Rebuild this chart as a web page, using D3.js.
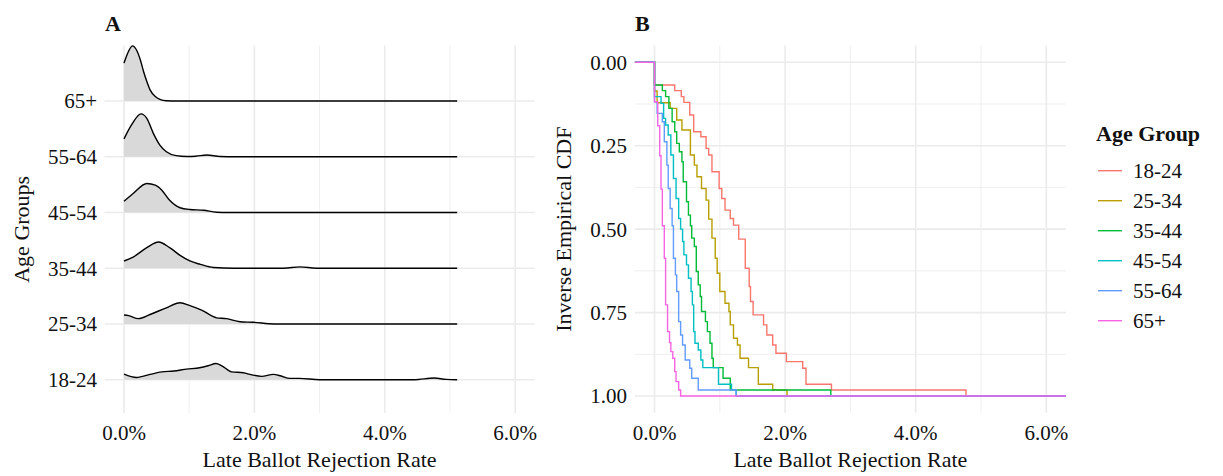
<!DOCTYPE html>
<html>
<head>
<meta charset="utf-8">
<script src="https://cdn.jsdelivr.net/npm/d3@7"></script>
<style>
  body { margin: 0; background: #fff; }
  svg text { font-family: "Liberation Serif", serif; fill: #111; }
</style>
</head>
<body>
<div id="chart"></div>
<script>
// age groups, bottom to top in panel A, legend order in panel B
const groups = ["18-24", "25-34", "35-44", "45-54", "55-64", "65+"];
const groupColors = ["#F8766D", "#B79F00", "#00BA38", "#00BFC4", "#619CFF", "#F564E3"];

const rateTicks = [0, 2, 4, 6];        // % late ballot rejection
const rateMinor = [1, 3, 5];
const cdfTicks = [0, 0.25, 0.5, 0.75, 1];
const cdfMinor = [0.125, 0.375, 0.625, 0.875];

// panel A: ridge heights (in row units) read at rejection rate (%)
const dens_18_24 = [[0,0.1],[0.19,0.04],[0.4,0.095],[0.58,0.14],[0.76,0.155],[0.96,0.19],[1.16,0.215],[1.29,0.25],[1.41,0.29],[1.5,0.25],[1.65,0.14],[1.83,0.125],[1.95,0.09],[2.11,0.06],[2.29,0.095],[2.41,0.066],[2.54,0.023],[2.69,0.023],[3.0,0],[4.45,0],[4.76,0.03],[4.94,0.005],[5.11,0]];
const dens_25_34 = [[0,0.16],[0.07,0.15],[0.22,0.095],[0.4,0.17],[0.65,0.29],[0.86,0.38],[1.01,0.33],[1.19,0.25],[1.42,0.11],[1.57,0.095],[1.78,0.04],[1.98,0.03],[2.3,0],[5.11,0]];
const dens_35_44 = [[0,0.13],[0.14,0.2],[0.35,0.37],[0.53,0.47],[0.7,0.37],[0.86,0.23],[1.01,0.13],[1.17,0.07],[1.37,0.013],[1.68,0],[2.45,0],[2.7,0.024],[2.95,0],[5.11,0]];
const dens_45_54 = [[0,0.2],[0.14,0.34],[0.35,0.52],[0.48,0.49],[0.58,0.4],[0.7,0.22],[0.86,0.085],[1.01,0.054],[1.22,0.041],[1.42,0.005],[1.6,0],[5.11,0]];
const dens_55_64 = [[0,0.32],[0.12,0.58],[0.26,0.77],[0.35,0.69],[0.45,0.42],[0.55,0.21],[0.65,0.09],[0.8,0.02],[0.96,0.005],[1.1,0.01],[1.27,0.03],[1.47,0.005],[1.7,0],[5.11,0]];
const dens_65 = [[0,0.68],[0.05,0.84],[0.13,0.99],[0.19,0.92],[0.25,0.74],[0.3,0.53],[0.35,0.35],[0.4,0.2],[0.48,0.08],[0.55,0.03],[0.65,0.005],[0.8,0],[5.11,0]];

// panel B: ecdf steps [rate %, cumulative share after the step]
const ecdf_18_24 = [[0,0.068],[0.31,0.085],[0.41,0.103],[0.45,0.12],[0.54,0.158],[0.6,0.208],[0.71,0.223],[0.79,0.258],[0.83,0.278],[0.88,0.328],[0.99,0.378],[1.03,0.408],[1.08,0.443],[1.16,0.468],[1.21,0.488],[1.29,0.53],[1.39,0.617],[1.45,0.672],[1.47,0.717],[1.51,0.757],[1.67,0.787],[1.72,0.817],[1.81,0.847],[1.86,0.872],[2.02,0.897],[2.27,0.917],[2.32,0.965],[2.71,0.982],[4.77,1]];
const ecdf_25_34 = [[0,0.086],[0.04,0.121],[0.24,0.138],[0.34,0.173],[0.42,0.203],[0.55,0.278],[0.61,0.308],[0.65,0.343],[0.72,0.378],[0.79,0.413],[0.83,0.47],[0.88,0.527],[0.93,0.587],[0.96,0.632],[1.0,0.687],[1.08,0.722],[1.14,0.747],[1.16,0.787],[1.21,0.827],[1.27,0.847],[1.31,0.887],[1.44,0.915],[1.59,0.965],[1.81,0.982],[2.03,1]];
const ecdf_35_44 = [[0,0.068],[0.12,0.085],[0.17,0.103],[0.22,0.138],[0.27,0.178],[0.31,0.208],[0.34,0.243],[0.38,0.268],[0.42,0.298],[0.44,0.358],[0.49,0.418],[0.52,0.458],[0.55,0.49],[0.57,0.527],[0.61,0.552],[0.64,0.627],[0.67,0.667],[0.7,0.702],[0.72,0.747],[0.78,0.777],[0.81,0.807],[0.85,0.842],[0.88,0.887],[0.9,0.915],[1.05,0.947],[1.16,0.982],[2.7,1]];
const ecdf_45_54 = [[0,0.103],[0.1,0.123],[0.14,0.168],[0.17,0.188],[0.21,0.218],[0.25,0.278],[0.29,0.348],[0.33,0.408],[0.37,0.468],[0.4,0.5],[0.43,0.537],[0.45,0.577],[0.49,0.607],[0.52,0.647],[0.56,0.687],[0.58,0.727],[0.6,0.807],[0.62,0.842],[0.67,0.862],[0.71,0.892],[0.74,0.915],[0.98,0.965],[1.18,0.982],[1.25,1]];
const ecdf_55_64 = [[0,0.118],[0.04,0.153],[0.12,0.178],[0.15,0.238],[0.19,0.308],[0.21,0.378],[0.24,0.438],[0.27,0.49],[0.29,0.587],[0.32,0.637],[0.34,0.687],[0.37,0.777],[0.4,0.817],[0.43,0.847],[0.47,0.892],[0.54,0.917],[0.57,0.947],[0.67,0.982],[1.25,1]];
const ecdf_65 = [[0,0.118],[0.05,0.19],[0.08,0.28],[0.1,0.38],[0.12,0.49],[0.15,0.587],[0.17,0.727],[0.2,0.807],[0.23,0.84],[0.25,0.867],[0.28,0.887],[0.31,0.927],[0.33,0.957],[0.37,0.982],[0.4,1]];

const densities = [dens_18_24, dens_25_34, dens_35_44, dens_45_54, dens_55_64, dens_65];
const ecdfs = [ecdf_18_24, ecdf_25_34, ecdf_35_44, ecdf_45_54, ecdf_55_64, ecdf_65];

const width = 1223, height = 476;
const gridCol = "#EBEBEB";
const pctFmt = d => d3.format(".1f")(d) + "%";

const svg = d3.select("#chart").append("svg")
    .attr("width", width)
    .attr("height", height);
svg.append("rect").attr("width", width).attr("height", height).attr("fill", "#fff");

// ---------- panel A: ridgelines ----------
const xA = d3.scaleLinear().domain([0, 6]).range([124, 124 + 6 * 65.2]);
const yA = d3.scalePoint().domain(groups).range([379.7, 101]);
const rowH = 55.7;
const topA = 45.6, botA = 413;

const gA = svg.append("g");

gA.selectAll(".minorA").data(rateMinor).enter().append("line")
    .attr("x1", d => xA(d)).attr("x2", d => xA(d))
    .attr("y1", topA).attr("y2", botA)
    .attr("stroke", gridCol).attr("stroke-width", 0.8);
gA.selectAll(".majorAx").data(rateTicks).enter().append("line")
    .attr("x1", d => xA(d)).attr("x2", d => xA(d))
    .attr("y1", topA).attr("y2", botA)
    .attr("stroke", gridCol).attr("stroke-width", 1.6);
gA.selectAll(".majorAy").data(groups).enter().append("line")
    .attr("x1", xA(-0.3)).attr("x2", xA(6.3))
    .attr("y1", d => yA(d)).attr("y2", d => yA(d))
    .attr("stroke", gridCol).attr("stroke-width", 1.6);

// top ridge first so the lower ones sit in front
const ridgeOrder = d3.range(groups.length).reverse();
ridgeOrder.forEach(function(i) {
    const base = yA(groups[i]);
    const area = d3.area()
        .x(d => xA(d[0]))
        .y0(base)
        .y1(d => base - d[1] * rowH)
        .curve(d3.curveMonotoneX);
    const line = d3.line()
        .x(d => xA(d[0]))
        .y(d => base - d[1] * rowH)
        .curve(d3.curveMonotoneX);
    gA.append("path").attr("d", area(densities[i]))
        .attr("fill", "#D9D9D9");
    gA.append("path").attr("d", line(densities[i]))
        .attr("fill", "none").attr("stroke", "#000").attr("stroke-width", 1.4);
});

gA.selectAll(".ytA").data(groups).enter().append("text")
    .attr("x", 97).attr("y", d => yA(d))
    .attr("dy", "0.35em").attr("text-anchor", "end")
    .style("font-size", "21px")
    .text(d => d);
gA.selectAll(".xtA").data(rateTicks).enter().append("text")
    .attr("x", d => xA(d)).attr("y", 440)
    .attr("text-anchor", "middle")
    .style("font-size", "21px")
    .text(pctFmt);
gA.append("text")
    .attr("x", (xA(-0.3) + xA(6.3)) / 2).attr("y", 467)
    .attr("text-anchor", "middle").style("font-size", "22px")
    .text("Late Ballot Rejection Rate");
gA.append("text")
    .attr("transform", "translate(29," + (topA + botA) / 2 + ") rotate(-90)")
    .attr("text-anchor", "middle").style("font-size", "22px")
    .text("Age Groups");
gA.append("text")
    .attr("x", 105).attr("y", 31)
    .style("font-size", "22px").style("font-weight", "bold")
    .text("A");

// ---------- panel B: inverse empirical CDF ----------
const xB = d3.scaleLinear().domain([0, 6]).range([654.5, 654.5 + 6 * 65.3]);
const yB = d3.scaleLinear().domain([0, 1]).range([62.3, 396]);
const topB = yB(-0.05), botB = yB(1.05);
const leftB = xB(-0.3), rightB = xB(6.3);

const gB = svg.append("g");

gB.selectAll(".minorBx").data(rateMinor).enter().append("line")
    .attr("x1", d => xB(d)).attr("x2", d => xB(d))
    .attr("y1", topB).attr("y2", botB)
    .attr("stroke", gridCol).attr("stroke-width", 0.8);
gB.selectAll(".minorBy").data(cdfMinor).enter().append("line")
    .attr("x1", leftB).attr("x2", rightB)
    .attr("y1", d => yB(d)).attr("y2", d => yB(d))
    .attr("stroke", gridCol).attr("stroke-width", 0.8);
gB.selectAll(".majorBx").data(rateTicks).enter().append("line")
    .attr("x1", d => xB(d)).attr("x2", d => xB(d))
    .attr("y1", topB).attr("y2", botB)
    .attr("stroke", gridCol).attr("stroke-width", 1.6);
gB.selectAll(".majorBy").data(cdfTicks).enter().append("line")
    .attr("x1", leftB).attr("x2", rightB)
    .attr("y1", d => yB(d)).attr("y2", d => yB(d))
    .attr("stroke", gridCol).attr("stroke-width", 1.6);

const stepLine = d3.line()
    .x(d => xB(d[0]))
    .y(d => yB(d[1]))
    .curve(d3.curveStepAfter);

ecdfs.forEach(function(steps, i) {
    // padded to the panel edges like stat_ecdf(pad = TRUE)
    const pts = [[-0.3, 0]].concat(steps, [[6.3, 1]]);
    gB.append("path").attr("d", stepLine(pts))
        .attr("fill", "none")
        .attr("stroke", groupColors[i])
        .attr("stroke-width", 1.4);
});

gB.selectAll(".ytB").data(cdfTicks).enter().append("text")
    .attr("x", leftB - 8).attr("y", d => yB(d))
    .attr("dy", "0.35em").attr("text-anchor", "end")
    .style("font-size", "21px")
    .text(d3.format(".2f"));
gB.selectAll(".xtB").data(rateTicks).enter().append("text")
    .attr("x", d => xB(d)).attr("y", 440)
    .attr("text-anchor", "middle")
    .style("font-size", "21px")
    .text(pctFmt);
gB.append("text")
    .attr("x", (leftB + rightB) / 2).attr("y", 467)
    .attr("text-anchor", "middle").style("font-size", "22px")
    .text("Late Ballot Rejection Rate");
gB.append("text")
    .attr("transform", "translate(571," + (topB + botB) / 2 + ") rotate(-90)")
    .attr("text-anchor", "middle").style("font-size", "22px")
    .text("Inverse Empirical CDF");
gB.append("text")
    .attr("x", 635).attr("y", 31)
    .style("font-size", "22px").style("font-weight", "bold")
    .text("B");

// ---------- legend ----------
const legend = svg.append("g");
legend.append("text")
    .attr("x", 1096).attr("y", 141)
    .style("font-size", "22px").style("font-weight", "bold")
    .text("Age Group");
const keyY = d3.scalePoint().domain(groups).range([170.7, 320.7]);
const keys = legend.selectAll(".key").data(groups).enter().append("g");
keys.append("line")
    .attr("x1", 1098).attr("x2", 1122)
    .attr("y1", d => keyY(d)).attr("y2", d => keyY(d))
    .attr("stroke", (d, i) => groupColors[i]).attr("stroke-width", 1.4);
keys.append("text")
    .attr("x", 1133).attr("y", d => keyY(d))
    .attr("dy", "0.35em").style("font-size", "21px")
    .text(d => d);
</script>
</body>
</html>
